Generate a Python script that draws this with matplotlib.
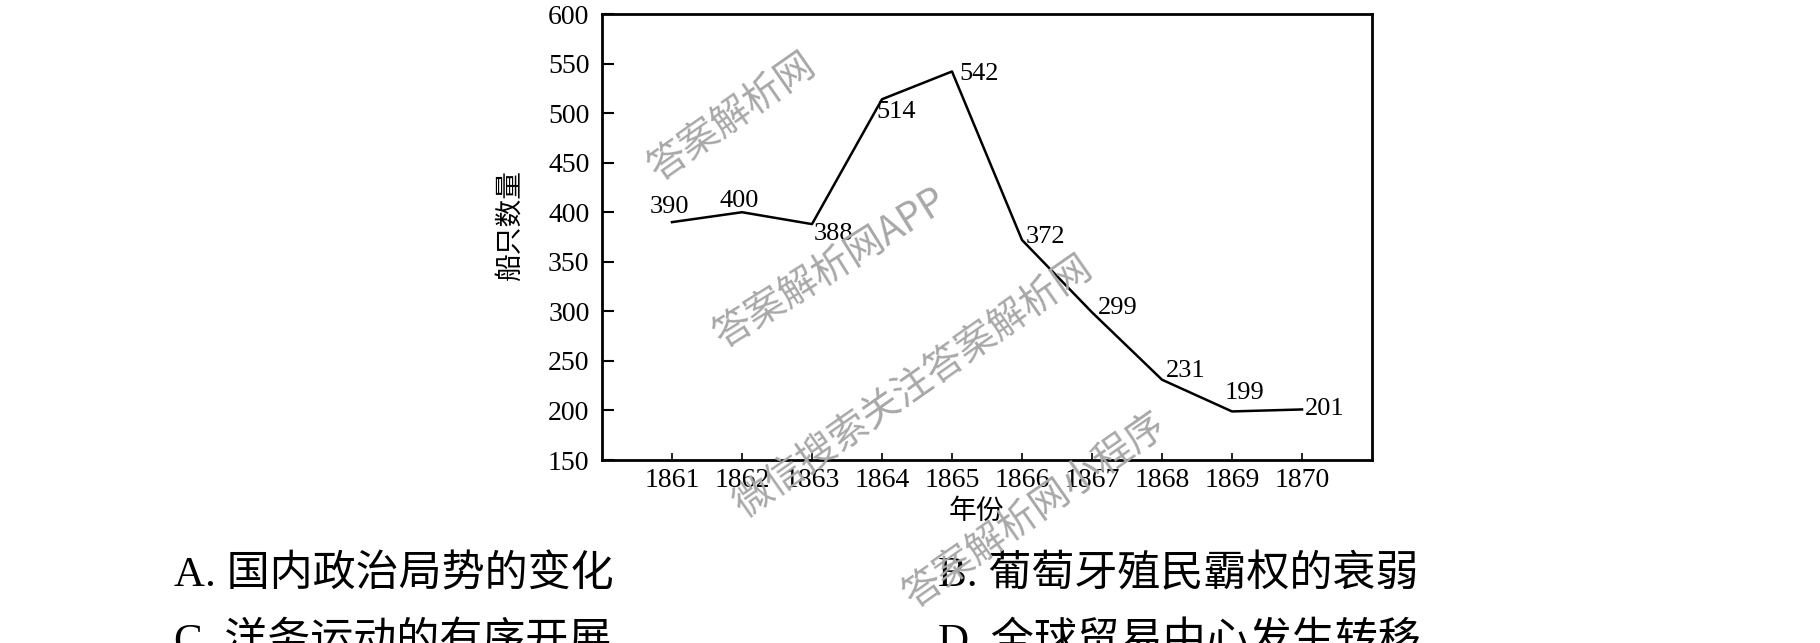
import matplotlib.pyplot as plt

# 1861-1870 船只数量
years = [1861, 1862, 1863, 1864, 1865, 1866, 1867, 1868, 1869, 1870]
ships = [390, 400, 388, 514, 542, 372, 299, 231, 199, 201]

# label offsets (points) and horizontal alignment for each data label
label_offsets = [(-2, 11), (-2, 8), (1, -7), (-4, -9), (5, -2),
                 (3, 2), (4, 3), (3, 6), (-5, 13), (2, 0)]
label_ha = ["center", "center", "left", "left", "left",
            "left", "left", "left", "left", "left"]

options = [
    ("A. 国内政治局势的变化", 174, 575),
    ("B. 葡萄牙殖民霸权的衰弱", 938, 575),
    ("C. 洋务运动的有序开展", 174, 642),
    ("D. 全球贸易中心发生转移", 938, 642),
]

watermarks = [
    ("答案解析网", 732, 117, 35),
    ("答案解析网APP", 830, 268, 32),
    ("微信搜索关注答案解析网", 913, 387, 35),
    ("答案解析网小程序", 1035, 510, 35),
]

SERIF = ["Liberation Serif", "Noto Sans CJK SC"]
CJK = ["Noto Sans CJK SC", "DejaVu Sans"]


def main():
    W, H = 1820, 643
    fig = plt.figure(figsize=(W / 100, H / 100), dpi=100)
    ax = fig.add_axes([602 / W, 1 - 460 / H, 770 / W, 446 / H])

    ax.plot(years, ships, color="black", linewidth=1.8)

    for x, y, off, ha in zip(years, ships, label_offsets, label_ha):
        ax.annotate(str(y), (x, y), xytext=off, textcoords="offset points",
                    ha=ha, va="center", fontsize=19, family=SERIF)

    ax.set_xlim(1860, 1871)
    ax.set_ylim(150, 600)
    ax.set_xticks(years)
    ax.set_yticks(range(150, 601, 50))

    for lab in ax.get_xticklabels() + ax.get_yticklabels():
        lab.set_family(SERIF)
        lab.set_fontsize(20)

    ax.tick_params(axis="y", direction="in", length=8.5, width=1.5, pad=9)
    ax.tick_params(axis="x", direction="in", length=5, width=1.2, pad=6)

    for sp in ax.spines.values():
        sp.set_linewidth(2)

    ax.set_xlabel("年份", fontsize=20, family=CJK)
    ax.xaxis.set_label_coords(0.486, -0.08)
    ax.set_ylabel("船只数量", fontsize=20, family=CJK)
    ax.yaxis.set_label_coords(-0.101, 0.525)

    # answer options (second row is cut off by the page edge, as in the scan)
    for text, x, y in options:
        fig.text(x / W, 1 - y / H, text, ha="left", va="center",
                 fontsize=31, family=SERIF)

    for text, x, y, rot in watermarks:
        fig.text(x / W, 1 - y / H, text, ha="center", va="center",
                 rotation=rot, rotation_mode="anchor", fontsize=28,
                 family=CJK, fontweight="light", color="#a8a8a8")

    fig.savefig("out.png")


if __name__ == "__main__":
    main()
